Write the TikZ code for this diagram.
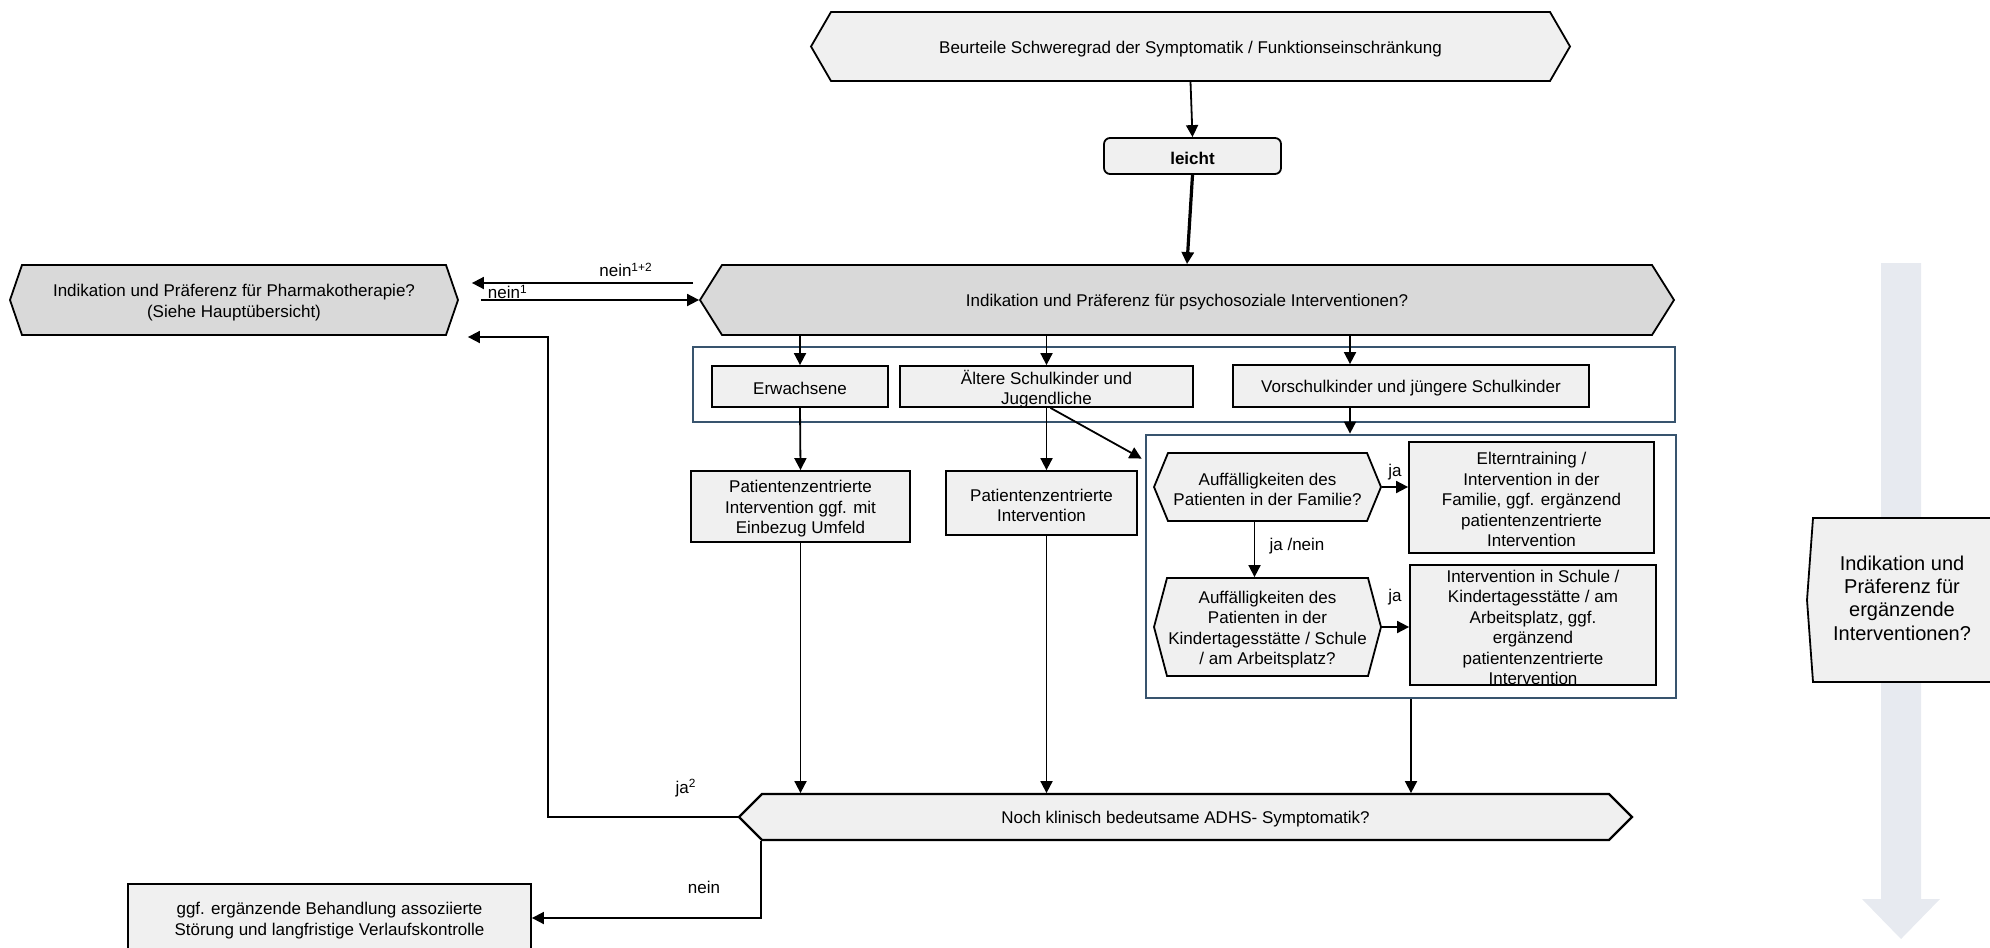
\documentclass[tikz,border=0pt]{standalone}
\usepackage{fontspec}
\setmainfont{Liberation Sans}
\usetikzlibrary{arrows.meta,fit,positioning}
\tikzset{every picture/.style={line width=0.9pt}}

\definecolor{boxfill}{RGB}{240,240,240}
\definecolor{hexdark}{RGB}{217,217,217}
\definecolor{grpblue}{RGB}{56,84,110}
\definecolor{bgarrow}{RGB}{231,234,240}

\tikzset{
  txt/.style={font=\fontsize{8.5}{10.25}\selectfont, align=center, inner sep=0pt},
  intxt/.style={txt, yshift=-1.2pt},
  box/.style={draw, fill=boxfill, inner sep=0pt},
  hexline/.style={draw, fill=boxfill},
  grpbox/.style={draw=grpblue, line width=1.4pt, inner sep=0pt},
  arr/.style={-{Triangle[length=6pt,width=6pt]}},
  lbl/.style={txt},
}

% hexagon outline: [style]{left}{top}{right}{bottom}{slant}
\newcommand{\hexpath}[6][]{%
  \draw[hexline,#1] (#2,{(#3+#5)/2}) -- (#2+#6,#3) -- (#4-#6,#3)
    -- (#4,{(#3+#5)/2}) -- (#4-#6,#5) -- (#2+#6,#5) -- cycle;}
% hexagon with named node: [style]{name}{left}{top}{right}{bottom}{slant}{text}
\newcommand{\hexnode}[8][]{%
  \hexpath[#1]{#3}{#4}{#5}{#6}{#7}
  \node[inner sep=0pt, fit={(#3,#4)(#5,#6)}] (#2) {};
  \node[intxt] at (#2.center) {#8};}
% box with named node: [style]{name}{left}{top}{right}{bottom}{text}
\newcommand{\fitbox}[7][]{%
  \node[box, #1, fit={(#3,#4)(#5,#6)}] (#2) {};
  \node[intxt, #1] at (#2.center) {#7};}

\begin{document}
\begin{tikzpicture}[x=0.5pt,y=-0.5pt]
\useasboundingbox (0,0) rectangle (1990,947);
\clip (0,0) rectangle (1990,947);

%Background arrow right
\fill[bgarrow] (1881,263) -- (1921,263) -- (1921,899) -- (1940,899) -- (1901,939) -- (1862,899) -- (1881,899) -- cycle;
%Right box
\draw[hexline] (1807,600) -- (1813,518) -- (2000,518) -- (2000,682) -- (1813,682) -- cycle;
\node[txt, font=\fontsize{10}{11.7}\selectfont] (erg) at (1902,598) {Indikation und\\Präferenz für\\ergänzende\\Interventionen?};

%Hexagons
\hexnode{beurt}{811}{12}{1570}{81}{20}{Beurteile Schweregrad der Symptomatik / Funktionseinschränkung}
\hexnode[fill=hexdark]{psych}{700}{265}{1674}{335}{22}{Indikation und Präferenz für psychosoziale Interventionen?}
\hexnode[fill=hexdark]{pharma}{10}{265}{458}{335}{12}{Indikation und Präferenz für Pharmakotherapie?\\(Siehe Hauptübersicht)}
\hexnode[line width=1.1pt]{noch}{739}{794}{1632}{840}{23}{Noch klinisch bedeutsame ADHS- Symptomatik?}

%Group frames
\node[grpbox, fit={(693,347)(1675,422)}] (grp1) {};
\node[grpbox, fit={(1146,435)(1676,698)}] (grp2) {};

%Boxes
\fitbox[rounded corners=3pt, font=\fontsize{8.5}{10.25}\selectfont\bfseries]{leicht}{1104}{138}{1281}{174}{leicht}
\fitbox{erw}{712}{366}{888}{407}{Erwachsene}
\fitbox{aelt}{900}{366}{1193}{407}{Ältere Schulkinder und\\Jugendliche}
\fitbox{vor}{1233}{365}{1589}{407}{Vorschulkinder und jüngere Schulkinder}
\fitbox{pat1}{691}{471}{910}{542}{Patientenzentrierte\\Intervention ggf. mit\\Einbezug Umfeld}
\fitbox{pat2}{946}{471}{1137}{535}{Patientenzentrierte\\Intervention}
\fitbox{elt}{1409}{442}{1654}{553}{Elterntraining /\\Intervention in der\\Familie, ggf. ergänzend\\patientenzentrierte\\Intervention}
\fitbox{sch}{1410}{565}{1656}{685}{Intervention in Schule /\\Kindertagesstätte / am\\Arbeitsplatz, ggf.\\ergänzend\\patientenzentrierte\\Intervention}
\fitbox{final}{128}{884}{531}{952}{ggf. ergänzende Behandlung assoziierte\\Störung und langfristige Verlaufskontrolle}

%Hexagons in group 2
\hexnode{hexfam}{1154}{453}{1381}{521}{14}{Auffälligkeiten des\\Patienten in der Familie?}
\hexnode{hexsch}{1154}{578}{1381}{676}{13}{Auffälligkeiten des\\Patienten in der\\Kindertagesstätte / Schule\\/ am Arbeitsplatz?}

%Helper coordinates
\coordinate (vorx) at ([shift={(-61,0)}]vor.south);
\coordinate (famx) at ([shift={(-13,0)}]hexfam.south);
\coordinate (jacorner) at (548,337);

%Connectors
\draw[arr] (beurt.south) -- (leicht.north);
\draw[arr, line width=1.6pt] (leicht.south) -- (psych.north);
\draw[arr] ([shift={(-6,-17)}]psych.west) -- ([shift={(13,-17)}]pharma.east);
\draw[arr] ([shift={(22,0)}]pharma.east) -- (psych.west);
\draw[arr] (noch.west) -| (jacorner) -- ([shift={(9,37)}]pharma.east);
\draw[arr] (psych.south -| erw.north) -- (erw.north);
\draw[arr] (psych.south -| aelt.north) -- (aelt.north);
\draw[arr] (psych.south -| vorx) -- (vorx |- vor.north);
\draw[arr] (erw.south) -- (pat1.north);
\draw[arr] (aelt.south) -- (aelt.south |- pat2.north);
\draw[arr] ([shift={(4,0)}]aelt.south) -- ([shift={(-3,25)}]grp2.north west);
\draw[arr] (vorx) -- (vorx |- grp2.north);
\draw[arr] (hexfam.east) -- (hexfam.east -| elt.west);
\draw[arr] (famx) -- (famx |- hexsch.north);
\draw[arr] (hexsch.east) -- (hexsch.east -| sch.west);
\draw[arr] (pat1.south) -- (pat1.south |- noch.north);
\draw[arr] (aelt.south |- pat2.south) -- (aelt.south |- noch.north);
\draw[arr] (grp2.south) -- (grp2.south |- noch.north);
\draw[arr] ([shift={(23,0)}]noch.south west) |- (final.east);

%Labels
\node[lbl] (lnein12) at (626,270) {nein\textsuperscript{1+2}};
\node[lbl, anchor=west] (lnein1) at (487,292) {nein\textsuperscript{1}};
\node[lbl] (lja1) at (1395,472) {ja};
\node[lbl] (lja2) at (1395,597) {ja};
\node[lbl] (ljanein) at (1297,546) {ja /nein};
\node[lbl] (lja3) at (686,788) {ja\textsuperscript{2}};
\node[lbl] (lnein) at (704,887) {nein};
\end{tikzpicture}
\end{document}
